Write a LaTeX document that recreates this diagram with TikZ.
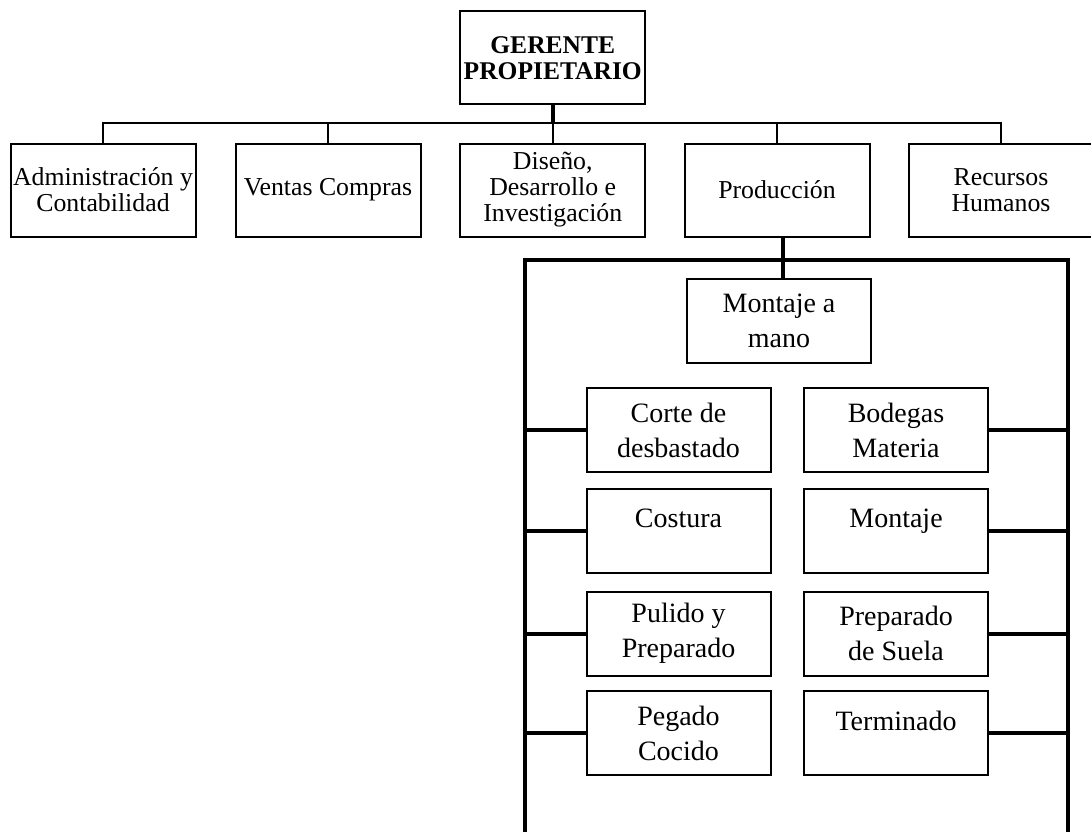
\documentclass[tikz,border=0pt]{standalone}
\usepackage{fontspec}
\setmainfont{Liberation Serif}
\usetikzlibrary{positioning}
\tikzset{
caja/.style={draw, line width=2pt, align=center, inner sep=1.5pt},
gerencia/.style={caja, minimum width=185pt, minimum height=93pt, font={\fontsize{25.5}{25.5}\selectfont\bfseries}},
area/.style={caja, minimum width=185pt, minimum height=93pt, font={\fontsize{25.8}{26}\selectfont}},
seccion/.style={caja, minimum width=184pt, minimum height=84pt, font={\fontsize{28}{35}\selectfont}},
fino/.style={line width=2pt},
grueso/.style={line width=4pt}
}
\begin{document}
\begin{tikzpicture}[x=1pt,y=-1pt]
\useasboundingbox (0,0) rectangle (1091,832);
\node[gerencia] (ger) at (552.75,58) {GERENTE\\PROPIETARIO};
\node[area] (adm) at (103,190) {Administración y\\Contabilidad};
\node[area] (ven) at (328,190) {Ventas Compras};
\node[area] (dis) at (552.75,190) {Diseño,\\Desarrollo e\\Investigación};
\node[area] (pro) at (777,190) {Producción};
\node[area] (rec) at (1001,190) {Recursos\\Humanos};

\node[seccion] (man) at (779,320.5) {Montaje a\\mano};
\node[seccion] (cor) at (678.5,430) {Corte de\\desbastado};
\node[seccion] (cos) at (678.5,531) {Costura\\[-10pt]\mbox{}};
\node[seccion] (pul) at (678.5,633.5) {Pulido y\\Preparado};
\node[seccion] (peg) at (678.5,733) {Pegado\\Cocido};
\node[seccion] (bod) at (896,430) {Bodegas\\Materia};
\node[seccion] (mon) at (896,531) {Montaje\\[-10pt]\mbox{}};
\node[seccion] (pre) at (896,633.5) {Preparado\\de Suela};
\node[seccion] (ter) at (896,733) {Terminado\\[-10pt]\mbox{}};

\coordinate (barra) at (0,123);
\draw[grueso] (ger.south) -- (ger.south |- barra);
\draw[fino] (adm.north) |- (barra -| rec.north) -- (rec.north);
\foreach \n in {ven,dis,pro}
  \draw[fino] (\n.north) -- (\n.north |- barra);

\coordinate (tope) at (783,260);
\coordinate (izq) at (525,832);
\coordinate (der) at (1068,832);
\draw[grueso] (pro.south -| tope) -- (man.north -| tope);
\draw[grueso] (izq) |- (tope) -| (der);
\foreach \n in {cor,cos,pul,peg}
  \draw[grueso] (\n.west) -- (\n.west -| izq);
\foreach \n in {bod,mon,pre,ter}
  \draw[grueso] (\n.east) -- (\n.east -| der);

\end{tikzpicture}
\end{document}
